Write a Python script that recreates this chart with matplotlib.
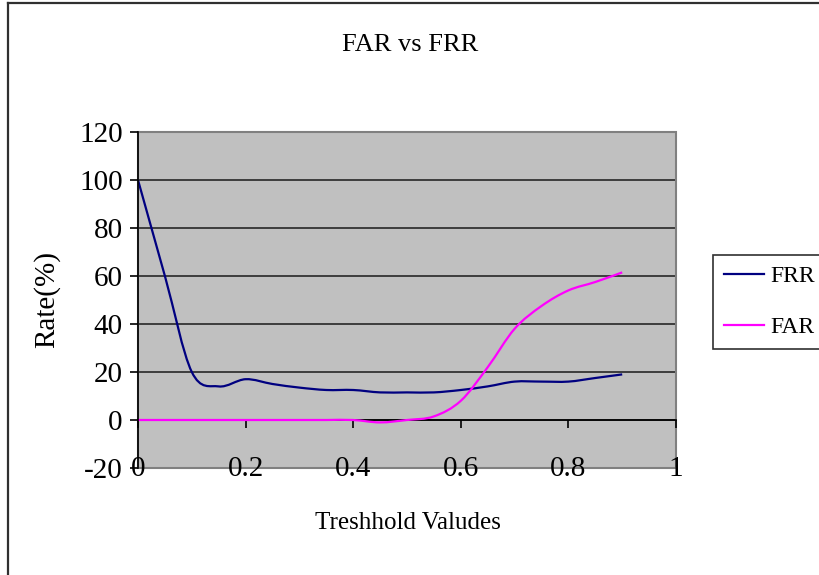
import numpy as np
import matplotlib
matplotlib.use("Agg")
import matplotlib.pyplot as plt
from matplotlib.path import Path
from matplotlib.patches import PathPatch, Rectangle
from matplotlib.lines import Line2D

plt.rcParams['font.family'] = ['Liberation Serif', 'DejaVu Serif']
plt.rcParams['axes.unicode_minus'] = False

# Threshold values and error rates (%)
thresholds = [0.00, 0.05, 0.10, 0.15, 0.20, 0.25, 0.30, 0.35, 0.40, 0.45,
              0.50, 0.55, 0.60, 0.65, 0.70, 0.75, 0.80, 0.85, 0.90]
frr = [100, 60, 20, 14, 17, 15, 13.5, 12.5, 12.5, 11.5,
       11.5, 11.5, 12.5, 14, 16, 16, 16, 17.5, 19]
far = [0, 0, 0, 0, 0, 0, 0, 0, 0, -1,
       0, 1.5, 8, 22, 38, 47.5, 54, 57.5, 61.5]

series_names = ['FRR', 'FAR']
series_colors = ['#000080', '#FF00FF']
x_ticks = [0, 0.2, 0.4, 0.6, 0.8, 1]
x_tick_labels = ['0', '0.2', '0.4', '0.6', '0.8', '1']
y_ticks = [-20, 0, 20, 40, 60, 80, 100, 120]


def smooth_path(xs, ys):
    """Catmull-Rom style cubic Bezier path through the points (spreadsheet 'smoothed line')."""
    pts = np.column_stack([xs, ys]).astype(float)
    n = len(pts)
    verts = [pts[0]]
    codes = [Path.MOVETO]
    for i in range(n - 1):
        p0 = pts[i - 1] if i > 0 else pts[i]
        p1 = pts[i]
        p2 = pts[i + 1]
        p3 = pts[i + 2] if i + 2 < n else pts[i + 1]
        c1 = p1 + (p2 - p0) / 6.0
        c2 = p2 - (p3 - p1) / 6.0
        verts += [c1, c2, p2]
        codes += [Path.CURVE4] * 3
    return Path(verts, codes)


W, H = 820, 575
fig = plt.figure(figsize=(W / 100, H / 100), dpi=100)
fig.patch.set_facecolor('white')

ax = fig.add_axes([138 / W, 1 - 468 / H, (676 - 138) / W, (468 - 132) / H])
ax.set_facecolor('#C0C0C0')
ax.set_xlim(0, 1)
ax.set_ylim(-20, 120)

# gridlines
for yv in y_ticks[1:]:
    ax.axhline(yv, color='#1a1a1a', lw=1.1, zorder=1)

# plot-area border
ax.add_patch(Rectangle((0, 0), 1, 1, transform=ax.transAxes, fill=False,
                       edgecolor='#808080', lw=1.5, zorder=1.5, clip_on=False))

for ys, col in zip([frr, far], series_colors):
    ax.add_patch(PathPatch(smooth_path(thresholds, ys), facecolor='none',
                           edgecolor=col, lw=1.6, zorder=3, capstyle='butt'))

for s in ['top', 'right']:
    ax.spines[s].set_visible(False)
ax.spines['left'].set_color('black')
ax.spines['left'].set_linewidth(1.2)
ax.spines['bottom'].set_position(('data', 0))
ax.spines['bottom'].set_color('black')
ax.spines['bottom'].set_linewidth(1.2)
ax.spines['left'].set_zorder(4)
ax.spines['bottom'].set_zorder(2)

ax.set_xticks(x_ticks)
ax.set_xticklabels(x_tick_labels)
ax.set_yticks(y_ticks)
ax.tick_params(axis='x', direction='out', length=6, width=1.2, pad=20, labelsize=21)
ax.tick_params(axis='y', direction='out', length=6, width=1.2, pad=5, labelsize=21)

fig.text(410 / W, 1 - 45 / H, 'FAR vs FRR', ha='center', va='center', fontsize=19)
fig.text(408 / W, 1 - 523 / H, 'Treshhold Valudes', ha='center', va='center', fontsize=18)
fig.text(47 / W, 1 - 300 / H, 'Rate(%)', ha='center', va='center', rotation=90, fontsize=21)

handles = [Line2D([], [], color=c, lw=1.6) for c in series_colors]
leg = fig.legend(handles, series_names, loc='upper left',
                 bbox_to_anchor=(713 / W, 1 - 255 / H), borderaxespad=0,
                 fontsize=17, handlelength=1.7, handletextpad=0.3,
                 labelspacing=1.25, borderpad=0.45, fancybox=False,
                 frameon=True, framealpha=1)
leg.get_frame().set_edgecolor('#303030')
leg.get_frame().set_linewidth(1.2)

# outer chart frame (left and top edges lie inside the canvas)
fig.add_artist(Line2D([8 / W, 8 / W], [0, 1 - 3 / H], transform=fig.transFigure,
                      color='#303030', lw=1.6))
fig.add_artist(Line2D([8 / W, 1], [1 - 3 / H, 1 - 3 / H], transform=fig.transFigure,
                      color='#303030', lw=1.6))

fig.savefig('out.png', dpi=100, facecolor='white')
